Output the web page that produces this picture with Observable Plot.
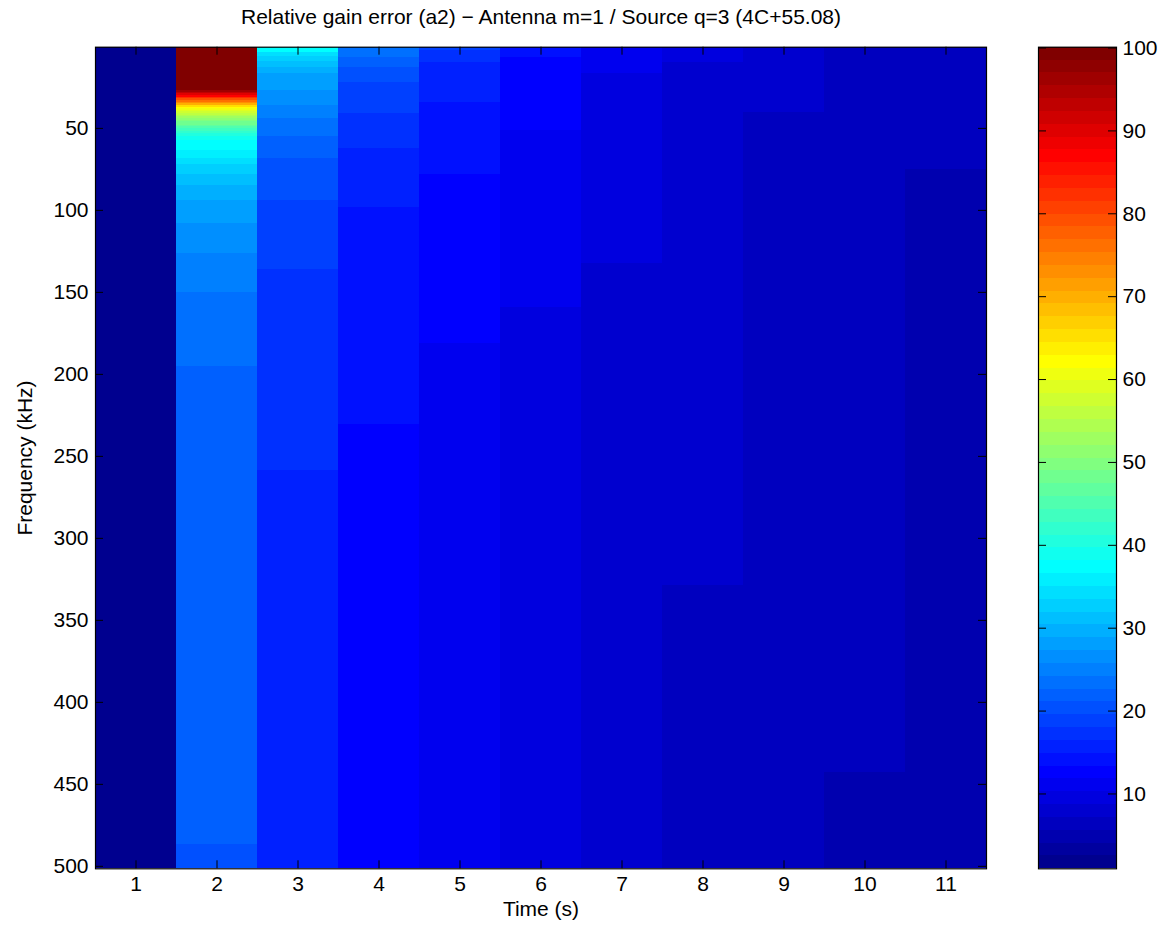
<!DOCTYPE html>
<html>
<head>
<meta charset="utf-8">
<script src="https://cdn.jsdelivr.net/npm/d3@7"></script>
<script src="https://cdn.jsdelivr.net/npm/@observablehq/plot@0.6"></script>
<style>
  body { margin: 0; background: #fff; }
  #chart { position: relative; width: 1167px; height: 930px; }
  #chart svg { position: absolute; top: 0; }
</style>
</head>
<body>
<div id="chart"></div>
<script>
const title = "Relative gain error (a2) − Antenna m=1 / Source q=3 (4C+55.08)";
const xLabel = "Time (s)";
const yLabel = "Frequency (kHz)";

const times = [1, 2, 3, 4, 5, 6, 7, 8, 9, 10, 11];
const freqTicks = [50, 100, 150, 200, 250, 300, 350, 400, 450, 500];
const colorTicks = [10, 20, 30, 40, 50, 60, 70, 80, 90, 100];
const freqRange = [0.5, 501.5];      // kHz, edges of the first and last channel
const colorLimits = [0.97, 100.1];   // colour axis limits

// Relative gain error per time step, as bands: [start frequency (kHz), value]
const t1 = [[0.5, 1.8]];
const t2 = [
  [0.5, 100.0], [27, 96.3], [28, 93.2], [29, 90.1], [30, 87.0], [31, 82.4], [32, 79.3],
  [33, 76.2], [34, 73.1], [35, 70.0], [36, 65.3], [37, 62.2], [38, 60.7], [39, 59.1],
  [40, 57.6], [41, 56.0], [42, 54.5], [43, 52.9], [44, 51.4], [45, 49.8], [46, 48.3],
  [47, 48.0], [48, 46.7], [49, 45.2], [50, 43.6], [51, 43.3], [52, 42.1], [53, 40.5],
  [54, 40.2], [55, 39.0], [56, 38.8], [57.4, 37.4], [63.7, 35.9], [68.1, 34.3],
  [72.1, 32.8], [78.1, 31.2], [85.1, 29.7], [94.0, 28.1], [107.8, 26.6], [126.1, 25.0],
  [150.1, 23.5], [195.2, 21.9], [486.4, 20.4]
];
const t3 = [
  [0.5, 37.4], [3.5, 34.3], [6.0, 32.8], [9.0, 31.2], [12.7, 29.7], [16.7, 28.1],
  [26.9, 26.6], [36.0, 25.0], [44.2, 23.5], [54.8, 21.9], [68.2, 20.4], [94.0, 18.8],
  [136.1, 17.3], [258.5, 15.7]
];
const t4 = [
  [0.5, 23.5], [6.6, 21.9], [12.7, 20.4], [21.8, 18.8], [40.7, 17.3], [62.1, 15.7],
  [98.1, 14.2], [230.3, 12.6]
];
const t5 = [[0.5, 18.8], [2.5, 17.3], [9.6, 15.7], [34.0, 14.2], [78.1, 12.6], [180.9, 11.1]];
const t6 = [[0.5, 14.2], [6.6, 12.6], [51.3, 11.1], [159.2, 9.5]];
const t7 = [[0.5, 11.1], [16.7, 9.5], [132.2, 8.0]];
const t8 = [[0.5, 9.5], [9.6, 8.0], [328.7, 6.4]];
const t9 = [[0.5, 8.0], [40.1, 6.4]];
const t10 = [[0.5, 6.4], [442.5, 4.9]];
const t11 = [[0.5, 6.4], [75.3, 4.9]];

const columns = [t1, t2, t3, t4, t5, t6, t7, t8, t9, t10, t11];
const cells = columns.flatMap((bands, i) =>
  bands.map(([f, v], j) => ({
    t: times[i],
    f1: f,
    f2: j + 1 < bands.length ? bands[j + 1][0] : freqRange[1],
    v
  }))
);

// 64-step jet colormap
function jet(m) {
  const n = m / 4, out = [];
  const c = (x) => Math.max(0, Math.min(1, x));
  for (let i = 1; i <= m; i++) {
    const r = c(Math.min((i - 1.5 * n) / n, (4.5 * n - i) / n));
    const g = c(Math.min((i - 0.5 * n) / n, (3.5 * n - i) / n));
    const b = c(Math.min((i + 0.5 * n) / n, (2.5 * n - i) / n));
    out.push(d3.rgb(r * 255, g * 255, b * 255).formatHex());
  }
  return out;
}
const nColors = 64;
const palette = jet(nColors);
const step = (colorLimits[1] - colorLimits[0]) / nColors;
const color = {
  type: "threshold",
  domain: d3.range(1, nColors).map((k) => colorLimits[0] + k * step),
  range: palette
};

const font = "'Liberation Sans', Arial, Helvetica, sans-serif";
const fontSize = 21;
const marginT = 46.7, marginB = 61.7;
const mainW = 1000, H = 930;
const mainLeft = 95, mainRight = 14;
const plotW = mainW - mainLeft - mainRight;
const plotH = H - marginT - marginB;
const tickLen = 8;

const main = Plot.plot({
  width: mainW,
  height: H,
  marginLeft: mainLeft,
  marginRight: mainRight,
  marginTop: marginT,
  marginBottom: marginB,
  x: {domain: [0.5, 11.5], axis: null},
  y: {domain: freqRange, reverse: true, axis: null},
  color,
  style: {fontFamily: font, fontSize: `${fontSize}px`, color: "#000", background: "transparent", overflow: "visible"},
  marks: [
    Plot.rect(cells, {
      x1: (d) => d.t - 0.5,
      x2: (d) => d.t + 0.5,
      y1: "f1",
      y2: "f2",
      fill: "v",
      shapeRendering: "crispEdges"
    }),
    Plot.ruleX(times, {x: (d) => d, insetTop: plotH - tickLen, stroke: "#000"}),
    Plot.ruleX(times, {x: (d) => d, insetBottom: plotH - tickLen, stroke: "#000"}),
    Plot.ruleY(freqTicks, {y: (d) => d, insetLeft: plotW - tickLen, stroke: "#000"}),
    Plot.ruleY(freqTicks, {y: (d) => d, insetRight: plotW - tickLen, stroke: "#000"}),
    Plot.frame({stroke: "#000", strokeWidth: 1.2}),
    Plot.axisX(times, {tickSize: 0, tickPadding: 7, fontSize, label: null}),
    Plot.axisY(freqTicks, {tickSize: 0, tickPadding: 7, fontSize, label: null}),
    Plot.text([title], {frameAnchor: "top", lineAnchor: "middle", dy: -30, fontSize, fill: "#000"}),
    Plot.text([xLabel], {frameAnchor: "bottom", lineAnchor: "middle", dy: 40, fontSize, fill: "#000"}),
    Plot.text([yLabel], {frameAnchor: "left", textAnchor: "middle", lineAnchor: "middle", dx: -70, rotate: -90, fontSize, fill: "#000"})
  ]
});
main.style.left = "0px";

const levels = d3.range(nColors).map((k) => ({
  lo: colorLimits[0] + k * step,
  hi: colorLimits[0] + (k + 1) * step
}));
const barW = 167, barLeft = 38, barRight = 51;
const barInner = barW - barLeft - barRight;

const bar = Plot.plot({
  width: barW,
  height: H,
  marginLeft: barLeft,
  marginRight: barRight,
  marginTop: marginT,
  marginBottom: marginB,
  y: {domain: colorLimits, axis: null},
  color,
  style: {fontFamily: font, fontSize: `${fontSize}px`, color: "#000", background: "transparent", overflow: "visible"},
  marks: [
    Plot.rect(levels, {y1: "lo", y2: "hi", fill: (d) => (d.lo + d.hi) / 2, shapeRendering: "crispEdges"}),
    Plot.ruleY(colorTicks, {y: (d) => d, insetRight: barInner - tickLen, stroke: "#000"}),
    Plot.ruleY(colorTicks, {y: (d) => d, insetLeft: barInner - tickLen, stroke: "#000"}),
    Plot.frame({stroke: "#000", strokeWidth: 1.2}),
    Plot.axisY(colorTicks, {anchor: "right", tickSize: 0, tickPadding: 6, fontSize, label: null})
  ]
});
bar.style.left = `${mainW}px`;

const root = document.getElementById("chart");
root.append(main, bar);
</script>
</body>
</html>
